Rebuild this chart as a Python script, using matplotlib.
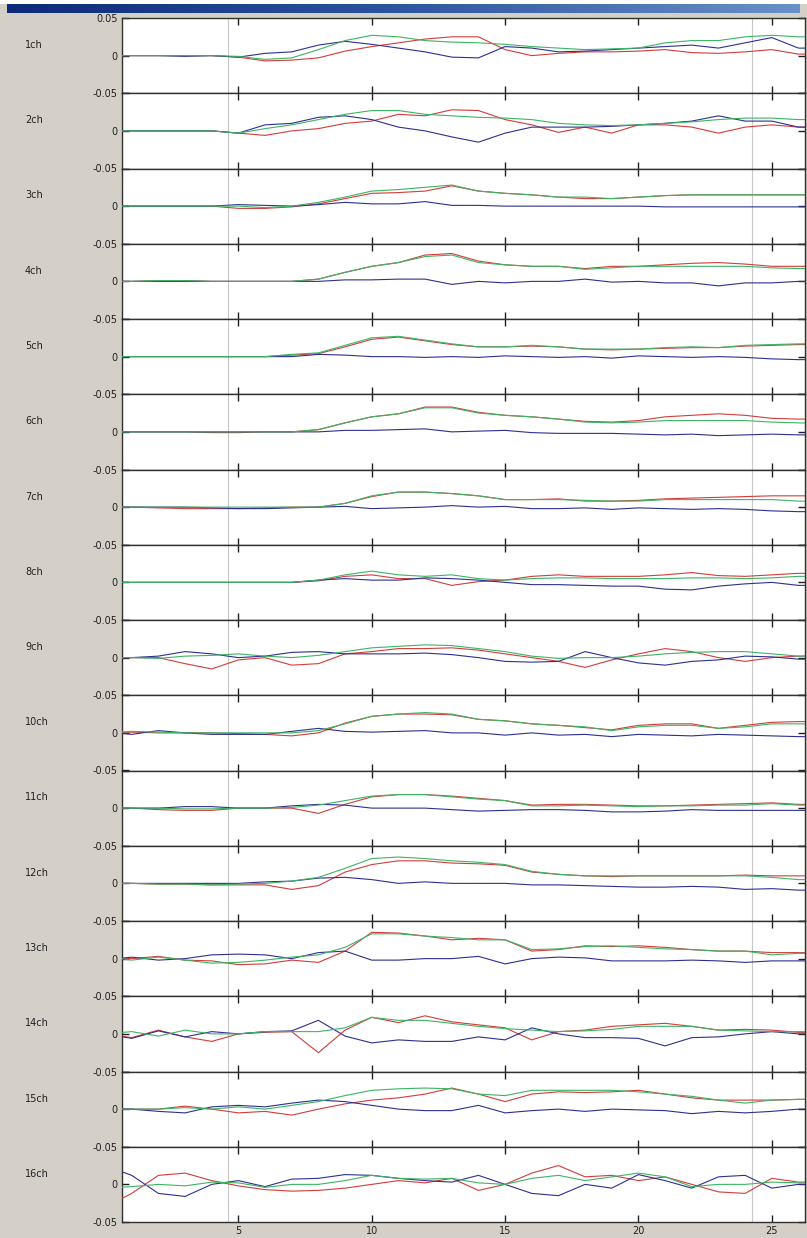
import matplotlib.pyplot as plt
import numpy as np
from matplotlib.colors import LinearSegmentedColormap
from matplotlib.patches import Rectangle

# time axis (s), one sample per second
t = np.arange(0, 28)
unit = 1e-3  # values below are in 1/1000

channels = ["%dch" % (i + 1) for i in range(16)]

# oxy-Hb (red)
oxy = [
    [0,0,0,0,0,-2,-7,-6,-3,6,12,17,22,25,25,8,0,3,5,5,6,8,4,3,5,8,2,2],
    [0,0,0,0,0,-3,-6,0,3,10,13,22,20,28,27,15,8,-2,5,-3,8,8,5,-3,5,8,5,5],
    [0,0,0,0,0,-3,-3,-1,3,10,17,18,20,27,20,17,15,12,10,10,12,14,15,15,15,15,15,15],
    [0,0,1,1,0,0,0,0,3,12,20,25,35,37,27,22,20,20,17,20,20,22,24,25,23,20,20,20],
    [0,0,0,0,0,0,0,2,4,13,23,26,21,16,13,13,14,13,10,9,10,11,12,12,14,15,16,16],
    [0,0,0,0,-1,-1,0,0,3,12,20,24,33,33,26,22,20,17,14,13,15,20,22,24,22,18,17,17],
    [0,0,-1,-2,-2,-2,-1,0,0,5,14,20,20,18,15,10,10,11,8,8,9,11,12,13,14,15,15,15],
    [0,0,0,0,0,0,0,0,2,8,10,5,5,-4,1,3,8,10,8,8,8,10,13,9,8,10,12,12],
    [0,0,0,-8,-15,-3,0,-10,-8,5,8,12,12,13,10,5,0,-5,-13,-3,5,12,8,0,-5,0,2,2],
    [0,1,0,0,0,-1,-2,-4,0,13,22,25,25,24,18,16,12,10,7,4,10,12,12,6,10,14,15,15],
    [0,0,-2,-3,-3,0,0,0,-7,5,15,18,18,16,13,10,4,5,5,4,3,3,4,5,6,7,5,5],
    [0,0,-1,-1,-2,-2,-2,-8,-3,15,25,30,30,27,26,24,15,12,10,9,10,10,10,10,11,10,10,10],
    [2,0,3,-2,-3,-8,-7,-2,-5,10,35,34,30,25,27,25,10,12,17,16,17,15,12,10,10,8,8,8],
    [0,-5,5,-4,-10,0,2,3,-25,5,22,15,24,16,12,8,-8,3,5,10,12,14,10,5,6,5,2,2],
    [0,0,0,4,0,-5,-3,-8,0,7,12,15,20,28,20,10,20,23,22,23,25,20,15,12,12,12,13,13],
    [-30,-12,12,15,5,-2,-7,-9,-8,-5,0,5,2,8,-8,0,15,25,10,12,5,10,0,-10,-12,8,3,3],
]

# deoxy-Hb (blue)
deoxy = [
    [0,0,0,-1,0,-2,3,5,14,19,15,10,5,-2,-3,12,10,5,6,8,10,12,14,10,17,24,10,10],
    [0,0,0,0,0,-3,8,10,18,20,15,5,0,-8,-15,-3,5,5,5,6,8,10,13,20,13,13,5,5],
    [0,0,0,0,0,2,1,0,2,5,3,3,6,1,1,0,0,0,0,0,0,-1,-1,-1,-1,-1,-1,-1],
    [0,0,0,0,0,0,0,0,0,2,2,3,3,-4,0,-2,0,0,3,-1,0,-2,-2,-6,-2,-2,0,0],
    [0,0,0,0,0,0,0,0,3,2,0,0,-1,0,-1,1,0,-1,0,-2,1,0,-1,0,-1,-3,-4,-4],
    [0,0,0,0,0,0,0,0,0,2,2,3,4,0,1,2,-1,-2,-2,-2,-3,-4,-3,-5,-4,-3,-4,-4],
    [0,0,0,0,-1,-2,-2,-1,0,1,-2,-1,0,2,0,1,-2,-2,-1,-3,-1,-2,-3,-2,-3,-5,-6,-6],
    [0,0,0,0,0,0,0,0,3,5,3,3,6,5,3,0,-3,-3,-4,-5,-5,-9,-10,-5,-2,0,-4,-4],
    [0,0,2,8,5,0,2,7,8,5,5,5,6,4,0,-5,-6,-5,8,0,-7,-10,-5,-3,2,1,-2,-2],
    [2,-2,3,0,-2,-2,-2,2,6,2,1,2,3,0,0,-3,0,-3,-2,-5,-2,-3,-4,-2,-3,-4,-5,-5],
    [0,0,0,2,2,0,0,3,5,4,0,0,0,-2,-4,-3,-2,-2,-3,-5,-5,-4,-2,-3,-3,-3,-3,-3],
    [0,0,0,0,0,0,2,3,7,8,5,0,2,0,0,0,-2,-2,-3,-4,-5,-5,-4,-5,-8,-7,-9,-9],
    [-2,2,-2,0,5,6,5,0,8,10,-2,-2,0,0,3,-7,0,2,1,-3,-3,-3,-2,-3,-5,-3,-3,-3],
    [0,-6,4,-4,3,0,3,4,18,-3,-12,-8,-10,-10,-4,-8,8,0,-5,-5,-6,-16,-5,-4,0,3,0,0],
    [0,0,-3,-5,3,5,3,8,12,10,5,0,-2,-2,5,-5,-2,0,-3,0,-1,-2,-6,-3,-5,-3,0,0],
    [25,12,-12,-16,0,5,-3,7,8,13,12,8,5,3,12,0,-12,-15,0,-5,13,5,-5,10,12,-5,0,0],
]

# total-Hb (green)
total = [
    [0,0,0,0,0,-1,-5,-3,8,20,27,25,20,18,17,15,12,10,8,9,10,17,20,20,25,27,25,25],
    [0,0,0,0,0,-3,3,8,15,22,27,27,22,20,18,17,15,10,8,7,8,10,12,15,17,17,15,15],
    [0,0,0,0,0,0,-2,0,5,12,20,22,25,28,20,17,15,12,12,10,12,14,15,15,15,15,15,15],
    [0,0,1,1,0,0,0,0,3,12,20,25,33,35,25,22,20,20,16,18,20,20,20,20,20,18,17,17],
    [0,0,0,0,0,0,0,3,5,15,25,27,22,17,13,13,15,13,10,10,10,12,13,12,15,16,17,17],
    [0,0,0,0,0,0,0,0,3,12,20,24,32,32,25,22,20,17,13,12,13,15,15,15,15,13,12,11],
    [0,0,0,0,0,0,0,0,0,5,15,20,20,18,15,10,10,10,9,8,8,10,10,10,10,10,8,8],
    [0,0,0,0,0,0,0,0,3,10,15,10,8,10,5,3,5,6,6,5,5,5,6,6,5,6,8,8],
    [0,0,-1,2,3,5,2,0,3,8,13,15,17,16,12,8,2,-1,0,0,2,5,7,8,8,5,2,2],
    [0,2,1,0,0,0,0,0,3,12,22,25,27,25,18,16,12,10,8,3,8,10,10,6,8,12,12,12],
    [0,0,0,-1,-1,0,0,1,4,10,16,18,18,15,12,10,3,3,4,3,2,3,3,4,4,6,4,4],
    [0,0,-1,-1,-2,-1,0,3,8,20,33,35,33,30,28,25,16,12,10,10,10,10,10,10,10,8,5,5],
    [3,-2,2,-2,-6,-5,-2,2,5,15,33,33,30,28,25,25,12,13,16,17,15,13,12,10,10,5,7,7],
    [0,3,-3,5,0,0,3,3,3,8,22,18,18,14,10,7,5,3,4,6,10,10,10,5,4,3,3,3],
    [0,0,0,2,0,3,0,5,10,18,25,27,28,27,20,18,25,25,25,25,23,20,17,12,8,12,13,13],
    [-5,-3,0,-2,3,2,-4,0,0,5,12,8,7,8,2,0,8,12,5,10,15,10,-3,0,0,3,2,2],
]

cursor_t = [4.61, 24.25]
xticks = [5, 10, 15, 20, 25]

W, H = 807, 1238
fig = plt.figure(figsize=(W / 100, H / 100), dpi=100, facecolor="#d4d0c8")
plt.rcParams['font.family'] = ['DejaVu Sans']

# window title bar
fig.patches.append(Rectangle((0, 1 - 4 / H), 1, 4 / H, transform=fig.transFigure,
                             facecolor="white", edgecolor="none"))
bar = fig.add_axes([7 / W, 1 - 13 / H, 793 / W, 9 / H])
cmap = LinearSegmentedColormap.from_list("bar", ["#0c2a78", "#2c56a0", "#6a90c8"])
bar.imshow(np.linspace(0, 1, 256)[None, :], cmap=cmap, aspect="auto")
bar.axis("off")

left, right = 122, 805
top, ph = 18, 75.25

for i in range(16):
    y0 = 1 - (top + ph * (i + 1)) / H
    ax = fig.add_axes([left / W, y0, (right - left) / W, ph / H])
    ax.set_facecolor("white")
    for c in cursor_t:
        ax.axvline(c, color="#c8c8c8", lw=0.8, zorder=1)
    ax.plot(t, np.array(oxy[i]) * unit, color="#d23c3c", lw=0.8, zorder=3)
    ax.plot(t, np.array(deoxy[i]) * unit, color="#2e3090", lw=0.8, zorder=3)
    ax.plot(t, np.array(total[i]) * unit, color="#3cb464", lw=0.8, zorder=4)
    ax.set_xlim(0.636, 26.245)
    ax.set_ylim(-0.05, 0.05)
    ax.set_xticks(xticks)
    ax.set_yticks([-0.05, 0, 0.05])
    ax.set_yticklabels(["-0.05", "0", "0.05" if i == 0 else ""])
    if i == 15:
        ax.set_xticklabels([str(v) for v in xticks])
    else:
        ax.set_xticklabels([])
    ax.tick_params(axis="both", direction="in", length=4.9, width=1.0,
                   color="#202020", labelsize=7, labelcolor="#202020")
    ax.tick_params(axis="x", top=True, bottom=True, pad=3)
    ax.tick_params(axis="y", left=True, right=True, pad=3)
    for s in ax.spines.values():
        s.set_linewidth(1.0)
        s.set_color("#303030")
    fig.text(25 / W, 1 - (45 + ph * i) / H, channels[i], fontsize=7,
             color="#202020", ha="left", va="center")

plt.savefig("out.png", dpi=100, facecolor=fig.get_facecolor())
